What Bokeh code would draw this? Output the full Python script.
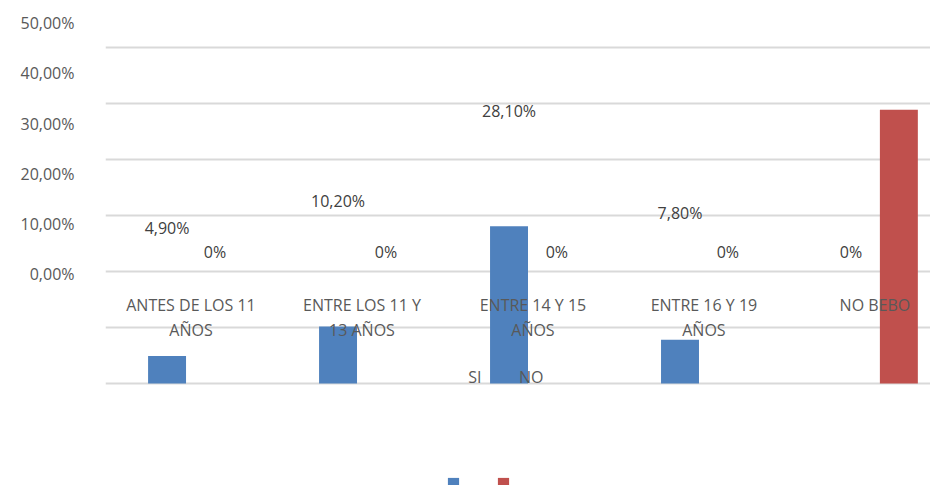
from bokeh.plotting import figure
from bokeh.models import (Range1d, LinearAxis, FixedTicker, Grid, Legend,
                          LegendItem, ColumnDataSource)
from bokeh.core.properties import value
from bokeh.embed import file_html
from bokeh.resources import INLINE

# ---- data ----
categories = ["ANTES DE LOS 11 AÑOS", "ENTRE LOS 11 Y 13 AÑOS",
              "ENTRE 14 Y 15 AÑOS", "ENTRE 16 Y 19 AÑOS", "NO BEBO"]
category_lines = ["ANTES DE LOS 11\nAÑOS", "ENTRE LOS 11 Y\n13 AÑOS",
                  "ENTRE 14 Y 15\nAÑOS", "ENTRE 16 Y 19\nAÑOS", "NO BEBO"]
series_names = ["SI", "NO"]
si_values = [4.9, 10.2, 28.1, 7.8, 0.0]
no_values = [0.0, 0.0, 0.0, 0.0, 48.9]
si_labels = ["4,90%", "10,20%", "28,10%", "7,80%", "0%"]
no_labels = ["0%", "0%", "0%", "0%", ""]
tick_values = [0, 10, 20, 30, 40, 50]
tick_labels = ["0,00%", "10,00%", "20,00%", "30,00%", "40,00%", "50,00%"]
grid_values = [0, 10, 20, 30, 40, 50, 60]

BLUE = "#4F81BD"
RED = "#C0504D"
TXT = "#595959"
FONT = "Open Sans"

n = len(categories)
centers = [i + 0.5 for i in range(n)]
off = 0.14
src = ColumnDataSource(dict(
    xc=centers,
    xs=[c - off for c in centers],
    xn=[c + off for c in centers],
    si=si_values, no=no_values,
    sil=si_labels, nol=no_labels,
    cat=category_lines,
    zero=[0.0] * n,
))
leg_src = ColumnDataSource(dict(x=[2.16, 2.49], y=[0.0, 0.0], t=series_names))

p = figure(width=930, height=485, output_backend="svg", toolbar_location=None,
           x_range=Range1d(0, 4.825), y_range=Range1d(-18.21, 66.07),
           x_axis_location=None, y_axis_location=None,
           min_border_left=105, min_border_right=0, min_border_top=13,
           min_border_bottom=0, outline_line_color=None)
for g in p.grid:
    g.visible = False
p.extra_y_ranges = {"lab": Range1d(-41.95, 51.89)}

p.add_layout(Grid(dimension=1, ticker=FixedTicker(ticks=grid_values),
                  grid_line_color="#D9D9D9", grid_line_width=2))

ax = LinearAxis(y_range_name="lab", ticker=FixedTicker(ticks=tick_values),
                major_label_overrides={v: s for v, s in zip(tick_values, tick_labels)},
                axis_line_color=None, major_tick_line_color=None,
                minor_tick_line_color=None, major_label_standoff=25,
                major_label_text_font=FONT, major_label_text_font_size="16px",
                major_label_text_color=TXT)
p.add_layout(ax, "left")

r_si = p.vbar(x="xs", top="si", width=0.222, source=src, color=BLUE, line_color=None)
r_no = p.vbar(x="xn", top="no", width=0.222, source=src, color=RED, line_color=None)

p.text(x="xs", y="si", text="sil", source=src, y_range_name="lab",
       text_align="center", text_baseline="middle", y_offset=-22,
       text_font=value(FONT), text_font_size="16px", text_color="#404040")
p.text(x="xn", y="no", text="nol", source=src, y_range_name="lab",
       text_align="center", text_baseline="middle", y_offset=-22,
       text_font=value(FONT), text_font_size="16px", text_color="#404040")

p.text(x="xc", y="zero", text="cat", source=src, y_range_name="lab",
       text_align="center", text_baseline="top", y_offset=20,
       text_line_height=1.1,
       text_font=value(FONT), text_font_size="16px", text_color=TXT)

p.text(x="x", y="y", text="t", source=leg_src, text_align="center",
       text_baseline="bottom", y_offset=4, text_font=value(FONT),
       text_font_size="16px", text_color=TXT)

legend = Legend(items=[LegendItem(label=value(" "), renderers=[r_si]),
                       LegendItem(label=value(" "), renderers=[r_no])],
                orientation="horizontal", location=(341, -5),
                glyph_width=14, glyph_height=14, label_width=0, label_height=14,
                label_standoff=0, spacing=36, padding=0, margin=0,
                border_line_alpha=0, background_fill_alpha=0)
p.add_layout(legend)

open("out.html", "w").write(file_html(p, INLINE))
